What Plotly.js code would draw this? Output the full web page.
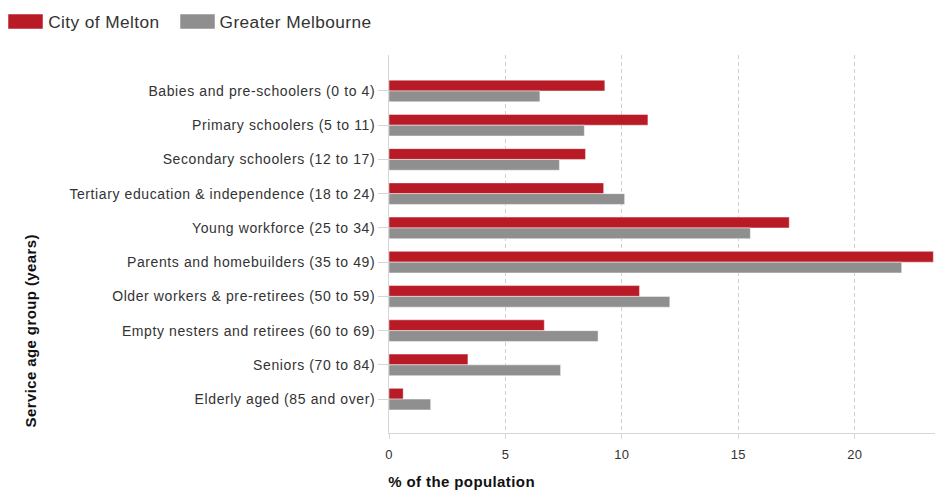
<!DOCTYPE html>
<html>
<head>
<meta charset="utf-8">
<script src="https://cdn.plot.ly/plotly-3.0.1.min.js"></script>
<style>
html,body{margin:0;padding:0;background:#fff;}
#chart{width:937px;height:490px;}
#chart .ytick text{letter-spacing:0.6px;}
#chart .xtick text{letter-spacing:0.3px;}
#chart g.annotation text{letter-spacing:0.4px;}
</style>
</head>
<body>
<div id="chart"></div>
<script>
var categories = [
  "Babies and pre-schoolers (0 to 4)",
  "Primary schoolers (5 to 11)",
  "Secondary schoolers (12 to 17)",
  "Tertiary education & independence (18 to 24)",
  "Young workforce (25 to 34)",
  "Parents and homebuilders (35 to 49)",
  "Older workers & pre-retirees (50 to 59)",
  "Empty nesters and retirees (60 to 69)",
  "Seniors (70 to 84)",
  "Elderly aged (85 and over)"
];
var melton = [9.27, 11.12, 8.44, 9.22, 17.19, 23.38, 10.76, 6.67, 3.39, 0.61];
var melbourne = [6.48, 8.39, 7.32, 10.12, 15.52, 22.02, 12.06, 8.98, 7.37, 1.79];
var seriesNames = ["City of Melton", "Greater Melbourne"];
var xTicks = [0, 5, 10, 15, 20];

var red = "#B81A26", grey = "#8F8F8F";
var font = "Arial, 'Liberation Sans', sans-serif";

var L = 389, R = 935, T = 55, B = 433;
var PW = R - L, PH = B - T;
function px(x) { return (x - L) / PW; }
function py(y) { return (B - y) / PH; }

var traces = [
  {type: "bar", orientation: "h", name: seriesNames[0], y: categories, x: melton,
   marker: {color: red, line: {color: "rgba(255,255,255,0.45)", width: 1}}, showlegend: false, hoverinfo: "x+name"},
  {type: "bar", orientation: "h", name: seriesNames[1], y: categories, x: melbourne,
   marker: {color: grey, line: {color: "rgba(255,255,255,0.45)", width: 1}}, showlegend: false, hoverinfo: "x+name"}
];

var layout = {
  width: 937, height: 490,
  margin: {l: L, r: 937 - R, t: T, b: 490 - B},
  paper_bgcolor: "#fff", plot_bgcolor: "#fff",
  font: {family: font, color: "#333", size: 14},
  barmode: "group", bargap: 0.37, bargroupgap: 0,
  xaxis: {
    range: [0, 23.45], tickvals: xTicks, ticktext: xTicks.map(String),
    showgrid: true, gridcolor: "#d0d0d0", griddash: "4px,3px", gridwidth: 1,
    zeroline: false, showline: true, linecolor: "#d6d6d6", linewidth: 1,
    ticks: "outside", ticklen: 5, tickcolor: "#d6d6d6", ticklabelstandoff: 4,
    tickfont: {size: 13, color: "#333"}, fixedrange: true
  },
  yaxis: {
    type: "category", range: [9.99, -1.05],
    showgrid: false, zeroline: false, showline: true, linecolor: "#d6d6d6", linewidth: 1,
    ticks: "outside", ticklen: 10, tickcolor: "#d6d6d6",
    tickfont: {size: 14, color: "#333"}, fixedrange: true
  },
  shapes: [
    {type: "rect", xref: "paper", yref: "paper", x0: px(8), x1: px(43), y0: py(29), y1: py(14),
     fillcolor: red, line: {color: "rgba(255,255,255,0.5)", width: 1}},
    {type: "rect", xref: "paper", yref: "paper", x0: px(180), x1: px(215), y0: py(29), y1: py(14),
     fillcolor: grey, line: {color: "rgba(255,255,255,0.5)", width: 1}}
  ],
  annotations: [
    {xref: "paper", yref: "paper", x: px(49), y: py(21.5), xanchor: "left", yanchor: "middle",
     text: seriesNames[0], showarrow: false, font: {size: 17.3, color: "#333"}},
    {xref: "paper", yref: "paper", x: px(221), y: py(21.5), xanchor: "left", yanchor: "middle",
     text: seriesNames[1], showarrow: false, font: {size: 17.3, color: "#333"}},
    {xref: "paper", yref: "paper", x: px(390), y: py(482), xanchor: "left", yanchor: "middle",
     text: "<b>% of the population</b>", showarrow: false, font: {size: 15, color: "#111"}},
    {xref: "paper", yref: "paper", x: px(30), y: py(425), xanchor: "center", yanchor: "bottom", textangle: -90,
     text: "<b>Service age group (years)</b>", showarrow: false, font: {size: 15, color: "#111"}}
  ]
};

Plotly.newPlot("chart", traces, layout, {displayModeBar: false, staticPlot: true});
</script>
</body>
</html>
